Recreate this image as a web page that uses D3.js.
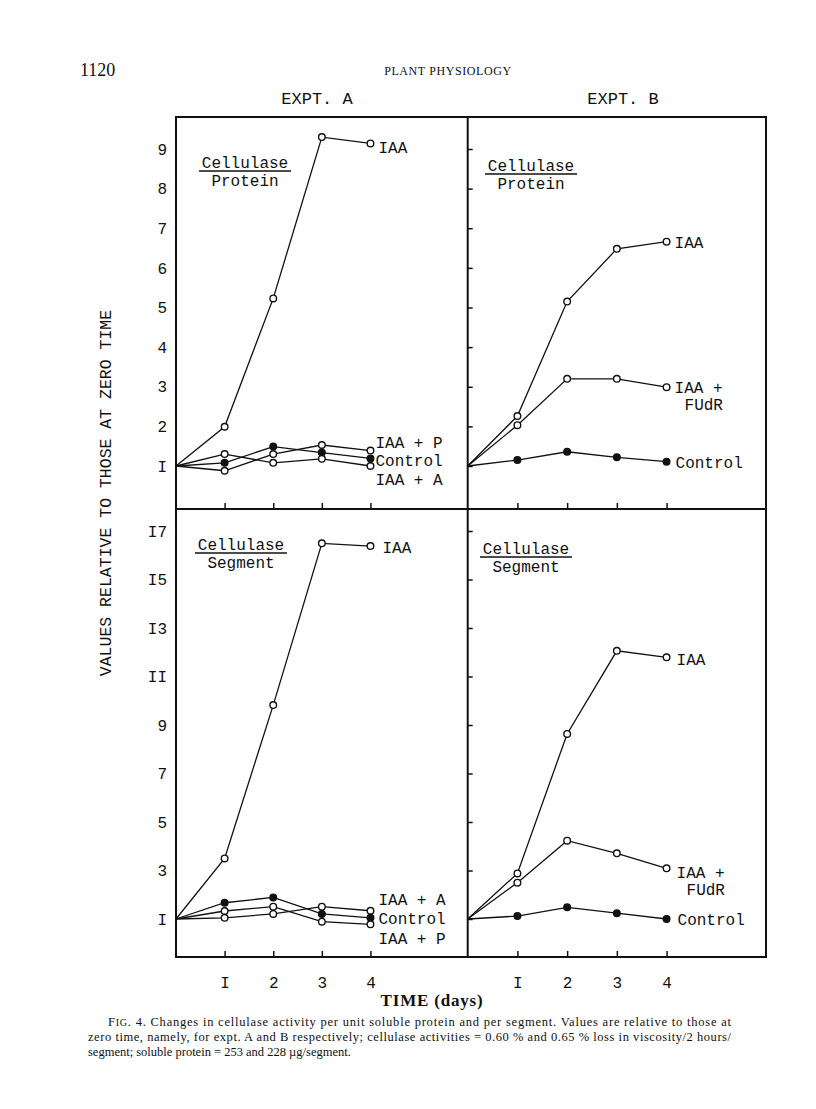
<!DOCTYPE html>
<html>
<head>
<meta charset="utf-8">
<script src="https://d3js.org/d3.v7.min.js"></script>
<style>
  body { margin: 0; background: #fff; }
  text { fill: #111; }
  .mono { font-family: "Liberation Mono", "DejaVu Sans Mono", monospace; }
  .serif { font-family: "Liberation Serif", "DejaVu Serif", serif; }
</style>
</head>
<body>
<div id="chart"></div>
<script>
// Fig. 4 - cellulase activity relative to zero time

const days = [0, 1, 2, 3, 4];
const dayTicks = [1, 2, 3, 4];
const dayTickLabels = ["I", "2", "3", "4"];

const protTicks = [1, 2, 3, 4, 5, 6, 7, 8, 9];
const protTickLabels = ["I", "2", "3", "4", "5", "6", "7", "8", "9"];
const segTicks = [1, 3, 5, 7, 9, 11, 13, 15, 17];
const segTickLabels = ["I", "3", "5", "7", "9", "II", "I3", "I5", "I7"];

// Expt. A, cellulase / protein
const protA_IAA = [1, 1.99, 5.23, 9.30, 9.14];
const protA_IAAP = [1, 0.88, 1.30, 1.53, 1.39];
const protA_Control = [1, 1.08, 1.49, 1.34, 1.19];
const protA_IAAA = [1, 1.30, 1.08, 1.18, 1.00];

// Expt. B, cellulase / protein
const protB_IAA = [1, 2.26, 5.15, 6.48, 6.66];
const protB_IAAF = [1, 2.03, 3.20, 3.20, 2.99];
const protB_Control = [1, 1.15, 1.36, 1.22, 1.11];

// Expt. A, cellulase / segment
const segA_IAA = [1, 3.50, 9.82, 16.49, 16.38];
const segA_IAAA = [1, 1.05, 1.21, 1.51, 1.34];
const segA_Control = [1, 1.67, 1.89, 1.21, 1.05];
const segA_IAAP = [1, 1.33, 1.51, 0.89, 0.78];

// Expt. B, cellulase / segment
const segB_IAA = [1, 2.88, 8.63, 12.06, 11.79];
const segB_IAAF = [1, 2.50, 4.23, 3.71, 3.09];
const segB_Control = [1, 1.12, 1.48, 1.24, 1.00];

const W = 816, H = 1109;
const frame = { left: 176, mid: 467.7, right: 766, top: 117, midY: 509, bottom: 957 };

const svg = d3.select("#chart")
    .append("svg")
    .attr("width", W)
    .attr("height", H);

const xA = d3.scaleLinear().domain([0, 6]).range([frame.left, frame.mid]);
const xB = d3.scaleLinear().domain([0, 6]).range([frame.mid, frame.right]);
const yProt = d3.scaleLinear().domain([1, 9]).range([466, 149]);
const ySeg = d3.scaleLinear().domain([1, 17]).range([919, 531]);

const panels = [
    { x: xA, y: yProt, ticks: protTicks, tickLabels: protTickLabels, left: true,
      base: frame.midY, measure: "Protein", title: [245, 171],
      series: [
          { name: "IAA", values: protA_IAA, filled: false, dx: 8, dy: 4 },
          { name: "IAA + P", values: protA_IAAP, filled: false, dx: 5, dy: -8 },
          { name: "Control", values: protA_Control, filled: true, dx: 5, dy: 2 },
          { name: "IAA + A", values: protA_IAAA, filled: false, dx: 5, dy: 13 }
      ] },
    { x: xB, y: yProt, ticks: protTicks, tickLabels: protTickLabels, left: false,
      base: frame.midY, measure: "Protein", title: [531, 174],
      series: [
          { name: "IAA", values: protB_IAA, filled: false, dx: 8, dy: 1 },
          { name: "IAA +\nFUdR", values: protB_IAAF, filled: false, dx: 8, dy: 0 },
          { name: "Control", values: protB_Control, filled: true, dx: 9, dy: 1 }
      ] },
    { x: xA, y: ySeg, ticks: segTicks, tickLabels: segTickLabels, left: true,
      base: frame.bottom, measure: "Segment", title: [241, 553],
      series: [
          { name: "IAA", values: segA_IAA, filled: false, dx: 12, dy: 1 },
          { name: "IAA + A", values: segA_IAAA, filled: false, dx: 8, dy: -11 },
          { name: "Control", values: segA_Control, filled: true, dx: 8, dy: 1 },
          { name: "IAA + P", values: segA_IAAP, filled: false, dx: 8, dy: 14 }
      ] },
    { x: xB, y: ySeg, ticks: segTicks, tickLabels: segTickLabels, left: false,
      base: frame.bottom, measure: "Segment", title: [526, 557],
      series: [
          { name: "IAA", values: segB_IAA, filled: false, dx: 10, dy: 2 },
          { name: "IAA +\nFUdR", values: segB_IAAF, filled: false, dx: 10, dy: 4 },
          { name: "Control", values: segB_Control, filled: true, dx: 11, dy: 0 }
      ] }
];

// frame
svg.append("rect")
    .attr("x", frame.left)
    .attr("y", frame.top)
    .attr("width", frame.right - frame.left)
    .attr("height", frame.bottom - frame.top)
    .attr("fill", "none")
    .attr("stroke", "#111")
    .attr("stroke-width", 2);

svg.append("line")
    .attr("x1", frame.mid).attr("x2", frame.mid)
    .attr("y1", frame.top).attr("y2", frame.bottom)
    .attr("stroke", "#111").attr("stroke-width", 2);

svg.append("line")
    .attr("x1", frame.left).attr("x2", frame.right)
    .attr("y1", frame.midY).attr("y2", frame.midY)
    .attr("stroke", "#111").attr("stroke-width", 2);

function styleAxis(g) {
    g.select(".domain").remove();
    g.selectAll(".tick line").attr("stroke", "#111").attr("stroke-width", 1.5);
    g.selectAll("text")
        .attr("font-family", "Liberation Mono, DejaVu Sans Mono, monospace")
        .attr("font-size", 16)
        .attr("fill", "#111");
}

const line = (x, y) => d3.line()
    .x((d, i) => x(days[i]))
    .y(d => y(d));

panels.forEach(p => {
    // x ticks pointing up from the panel base
    const showX = p.base === frame.bottom;
    svg.append("g")
        .attr("transform", `translate(0,${p.base})`)
        .call(d3.axisBottom(p.x)
            .tickValues(dayTicks)
            .tickSize(-6)
            .tickPadding(20)
            .tickFormat((d, i) => showX ? dayTickLabels[i] : ""))
        .call(styleAxis);

    // y axis: labels on the left panels, ticks on the divider for the right ones
    if (p.left) {
        svg.append("g")
            .attr("transform", `translate(${frame.left},0)`)
            .call(d3.axisLeft(p.y)
                .tickValues(p.ticks)
                .tickSize(0)
                .tickPadding(9)
                .tickFormat((d, i) => p.tickLabels[i]))
            .call(styleAxis);
    } else {
        svg.append("g")
            .attr("transform", `translate(${frame.mid},0)`)
            .call(d3.axisLeft(p.y)
                .tickValues(p.ticks)
                .tickSize(-5)
                .tickFormat(""))
            .call(styleAxis);
    }

    // panel title: Cellulase over Protein / Segment
    const [cx, ly] = p.title;
    svg.append("text")
        .attr("class", "mono")
        .attr("x", cx).attr("y", ly - 3)
        .attr("text-anchor", "middle")
        .attr("font-size", 16)
        .text("Cellulase");
    svg.append("line")
        .attr("x1", cx - 46).attr("x2", cx + 46)
        .attr("y1", ly).attr("y2", ly)
        .attr("stroke", "#111").attr("stroke-width", 1.6);
    svg.append("text")
        .attr("class", "mono")
        .attr("x", cx).attr("y", ly + 15)
        .attr("text-anchor", "middle")
        .attr("font-size", 16)
        .text(p.measure);

    p.series.forEach(s => {
        svg.append("path")
            .datum(s.values)
            .attr("fill", "none")
            .attr("stroke", "#111")
            .attr("stroke-width", 1.3)
            .attr("d", line(p.x, p.y));

        svg.selectAll(null)
            .data(s.values.slice(1))
            .enter().append("circle")
            .attr("cx", (d, i) => p.x(days[i + 1]))
            .attr("cy", d => p.y(d))
            .attr("r", 3.3)
            .attr("fill", s.filled ? "#111" : "#fff")
            .attr("stroke", "#111")
            .attr("stroke-width", 1.4);

        const last = s.values[s.values.length - 1];
        const lx = p.x(days[days.length - 1]) + s.dx;
        const lines = s.name.split("\n");
        const t = svg.append("text")
            .attr("class", "mono")
            .attr("font-size", 16)
            .attr("x", lx)
            .attr("y", p.y(last) + s.dy);
        lines.forEach((l, i) => {
            t.append("tspan")
                .attr("x", i === 0 ? lx : lx + 10)
                .attr("dy", i === 0 ? "0.35em" : 17)
                .text(l);
        });
    });
});

// header
svg.append("text")
    .attr("class", "serif")
    .attr("x", 80).attr("y", 76)
    .attr("font-size", 18)
    .text("1120");

svg.append("text")
    .attr("class", "serif")
    .attr("x", 448).attr("y", 75)
    .attr("text-anchor", "middle")
    .attr("font-size", 12)
    .attr("letter-spacing", 0.6)
    .text("PLANT PHYSIOLOGY");

svg.append("text")
    .attr("class", "mono")
    .attr("x", 317).attr("y", 104)
    .attr("text-anchor", "middle")
    .attr("font-size", 17)
    .text("EXPT. A");

svg.append("text")
    .attr("class", "mono")
    .attr("x", 623).attr("y", 104)
    .attr("text-anchor", "middle")
    .attr("font-size", 17)
    .text("EXPT. B");

// axis titles
svg.append("text")
    .attr("class", "mono")
    .attr("transform", "translate(111,493) rotate(-90)")
    .attr("text-anchor", "middle")
    .attr("font-size", 16.5)
    .text("VALUES RELATIVE TO THOSE AT ZERO TIME");

svg.append("text")
    .attr("class", "serif")
    .attr("x", 432).attr("y", 1006)
    .attr("text-anchor", "middle")
    .attr("font-size", 17)
    .attr("font-weight", "bold")
    .attr("letter-spacing", 0.8)
    .text("TIME (days)");

// caption
const cap1 = svg.append("text")
    .attr("class", "serif")
    .attr("x", 108).attr("y", 1026)
    .attr("font-size", 12.5)
    .attr("textLength", 623)
    .attr("lengthAdjust", "spacing");
cap1.append("tspan").text("F");
cap1.append("tspan").attr("font-size", 10).text("IG");
cap1.append("tspan").text(". 4. Changes in cellulase activity per unit soluble protein and per segment.  Values are relative to those at");

svg.append("text")
    .attr("class", "serif")
    .attr("x", 88).attr("y", 1041)
    .attr("font-size", 12.5)
    .attr("textLength", 643)
    .attr("lengthAdjust", "spacing")
    .text("zero time, namely, for expt. A and B respectively; cellulase activities = 0.60 % and 0.65 % loss in viscosity/2 hours/");

svg.append("text")
    .attr("class", "serif")
    .attr("x", 88).attr("y", 1056)
    .attr("font-size", 12.5)
    .text("segment; soluble protein = 253 and 228 \u00b5g/segment.");
</script>
</body>
</html>
